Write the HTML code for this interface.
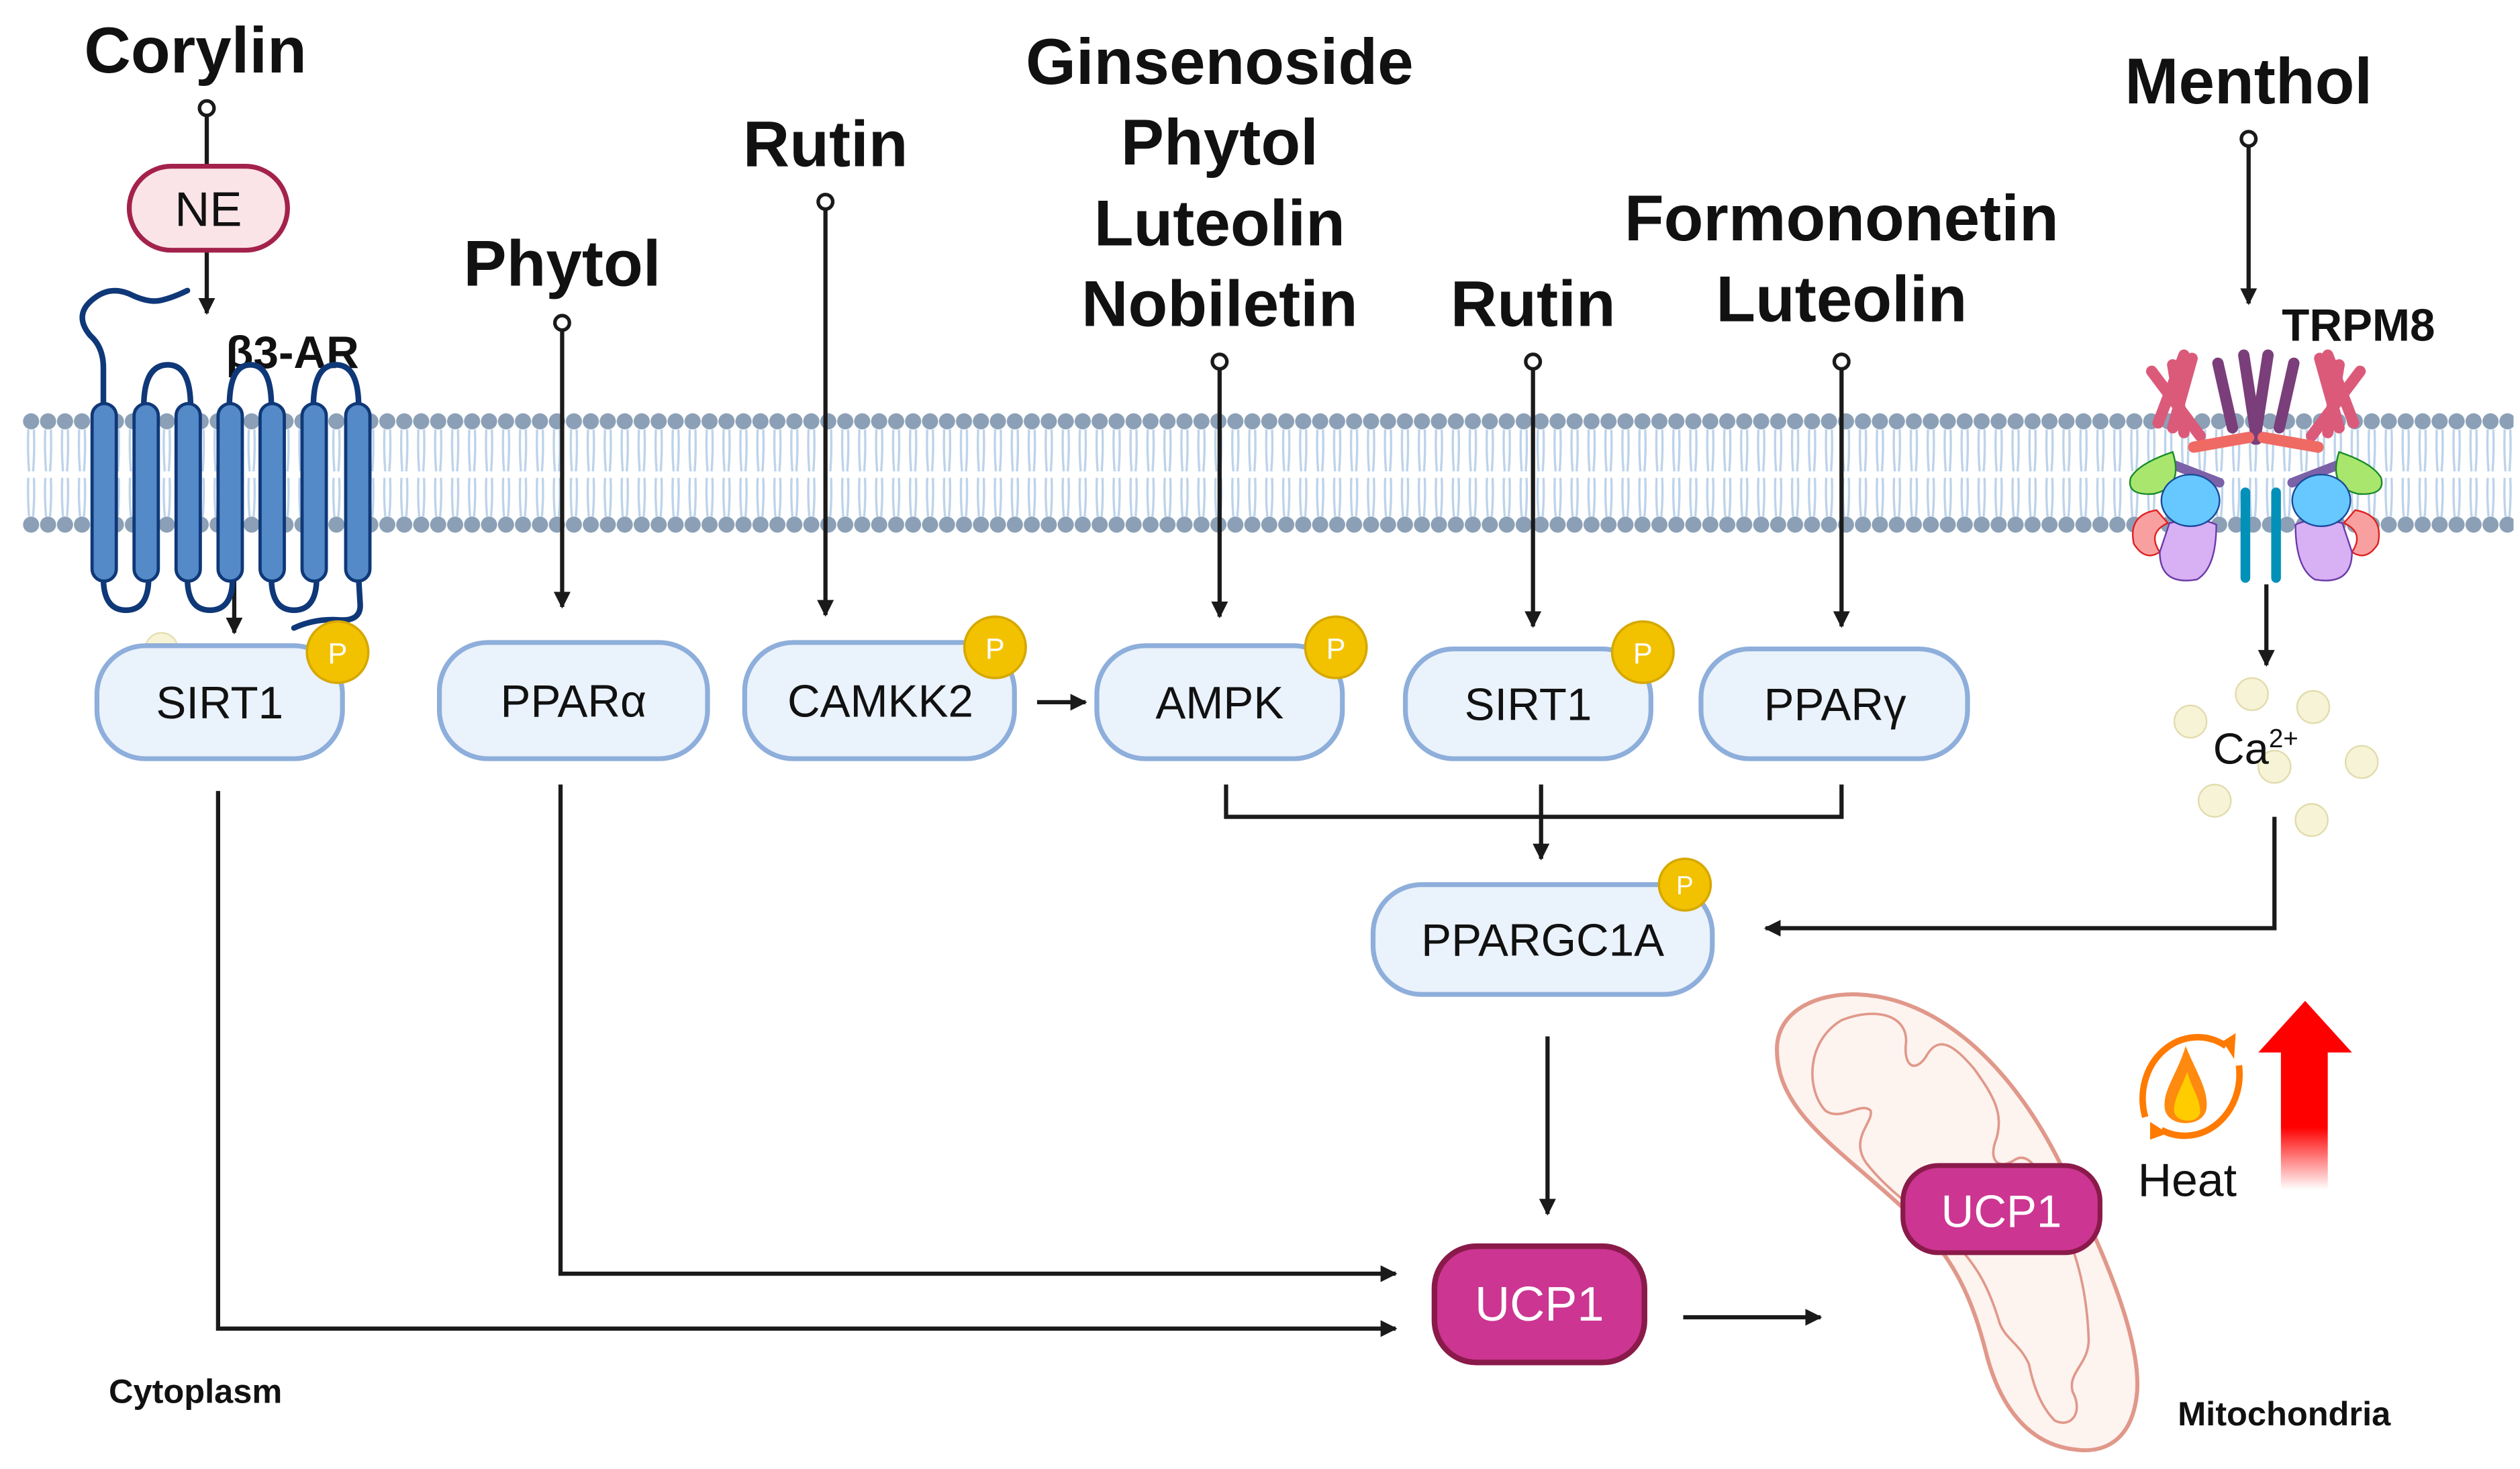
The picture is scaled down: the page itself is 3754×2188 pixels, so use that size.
<!DOCTYPE html>
<html><head><meta charset="utf-8"><style>
html,body{margin:0;padding:0;background:#fff;}
svg{display:block;}
text{font-family:"Liberation Sans",sans-serif;}
</style></head><body>
<svg width="3754" height="2188" viewBox="0 0 1560 910" preserveAspectRatio="none" xmlns="http://www.w3.org/2000/svg">
<defs>
<pattern id="mem" x="14" y="0" width="10.5" height="910" patternUnits="userSpaceOnUse">
<path d="M3.5,266 Q3,280 4,292 M7,266 Q7.5,280 6.5,292 M3.5,296 Q3,308 4,320 M7,296 Q7.5,308 6.5,320" stroke="#bcd3ea" stroke-width="1.4" fill="none"/>
<circle cx="5.25" cy="261" r="5" fill="#8ba0b6"/>
<circle cx="5.25" cy="325" r="5" fill="#8ba0b6"/>
</pattern>
<marker id="ah" viewBox="0 0 10 10" refX="9" refY="5" markerWidth="4" markerHeight="4" orient="auto" markerUnits="strokeWidth"><path d="M0,0 L10,5 L0,10 z" fill="#1a1a1a"/></marker>
<linearGradient id="rg" x1="0" y1="0" x2="0" y2="1"><stop offset="0" stop-color="#ff0000"/><stop offset="0.55" stop-color="#ff0000"/><stop offset="1" stop-color="#ff0000" stop-opacity="0"/></linearGradient>
</defs>
<rect x="14" y="250" width="1542" height="85" fill="url(#mem)"/>

<g fill="#111" font-weight="bold" text-anchor="middle">
<text x="121" y="45" font-size="40">Corylin</text>
<text x="348" y="177" font-size="40">Phytol</text>
<text x="511" y="103" font-size="40">Rutin</text>
<text x="755" y="52" font-size="40">Ginsenoside</text>
<text x="755" y="102" font-size="40">Phytol</text>
<text x="755" y="152" font-size="40">Luteolin</text>
<text x="755" y="202" font-size="40">Nobiletin</text>
<text x="949" y="202" font-size="40">Rutin</text>
<text x="1140" y="149" font-size="40">Formononetin</text>
<text x="1140" y="199" font-size="40">Luteolin</text>
<text x="1392" y="64" font-size="40">Menthol</text>
<text x="1460" y="211" font-size="28">TRPM8</text>
<text x="181" y="228" font-size="28">β3-AR</text>
<text x="121" y="869" font-size="21">Cytoplasm</text>
<text x="1414" y="883" font-size="21">Mitochondria</text>
</g>

<!-- connectors -->
<g stroke="#1a1a1a" stroke-width="2.6" fill="none">
<line x1="128" y1="71" x2="128" y2="103"/>
<line x1="128" y1="155" x2="128" y2="194" marker-end="url(#ah)"/>
<line x1="145" y1="360" x2="145" y2="392" marker-end="url(#ah)"/>
<line x1="348" y1="204" x2="348" y2="376" marker-end="url(#ah)"/>
<line x1="511" y1="129" x2="511" y2="381" marker-end="url(#ah)"/>
<line x1="642" y1="435" x2="672" y2="435" marker-end="url(#ah)"/>
<line x1="755" y1="228" x2="755" y2="382" marker-end="url(#ah)"/>
<line x1="949" y1="228" x2="949" y2="388" marker-end="url(#ah)"/>
<line x1="1140" y1="228" x2="1140" y2="388" marker-end="url(#ah)"/>
<line x1="1392" y1="90" x2="1392" y2="188" marker-end="url(#ah)"/>
<line x1="1403" y1="362" x2="1403" y2="412" marker-end="url(#ah)"/>
<polyline points="759,486 759,506 1140,506 1140,486"/>
<line x1="954" y1="486" x2="954" y2="532" marker-end="url(#ah)"/>
<polyline points="1408,506 1408,575 1093,575" marker-end="url(#ah)"/>
<line x1="958" y1="642" x2="958" y2="752" marker-end="url(#ah)"/>
<polyline points="347,486 347,789 864,789" marker-end="url(#ah)"/>
<polyline points="135,490 135,823 864,823" marker-end="url(#ah)"/>
<line x1="1042" y1="816" x2="1127" y2="816" marker-end="url(#ah)"/>
</g>
<g fill="#fff" stroke="#1a1a1a" stroke-width="2.2">
<circle cx="128" cy="67" r="4.5"/><circle cx="348" cy="200" r="4.5"/><circle cx="511" cy="125" r="4.5"/>
<circle cx="755" cy="224" r="4.5"/><circle cx="949" cy="224" r="4.5"/><circle cx="1140" cy="224" r="4.5"/><circle cx="1392" cy="86" r="4.5"/>
</g>

<!-- NE -->
<rect x="80" y="103" width="98" height="52" rx="26" fill="#fbe4e8" stroke="#a3224c" stroke-width="3"/>
<text x="129" y="140" font-size="30" text-anchor="middle" fill="#111">NE</text>

<!-- GPCR -->
<g stroke="#0f3878" stroke-width="3.5" fill="none" stroke-linecap="round">
<path d="M64,252 L64,228 Q64,215 56,208 Q45,195 58,185 Q68,177 80,182 Q92,188 100,186 Q108,184 116,180"/>
<path d="M89,252 Q89,226 104,226 Q118,226 118,252"/>
<path d="M142,252 Q142,226 155,226 Q168,226 168,252"/>
<path d="M194,252 Q194,226 208,226 Q222,226 222,252"/>
<path d="M64,358 Q64,378 78,378 Q92,378 92,358"/>
<path d="M116,358 Q116,378 130,378 Q144,378 144,358"/>
<path d="M168,358 Q168,378 182,378 Q196,378 196,358"/>
<path d="M222,358 L223,375 Q223,385 210,384 Q195,383 182,389"/>
</g>
<g fill="#558ac8" stroke="#0f3878" stroke-width="2">
<rect x="57" y="250" width="15" height="110" rx="7.5"/><rect x="83" y="250" width="15" height="110" rx="7.5"/>
<rect x="109" y="250" width="15" height="110" rx="7.5"/><rect x="135" y="250" width="15" height="110" rx="7.5"/>
<rect x="161" y="250" width="15" height="110" rx="7.5"/><rect x="187" y="250" width="15" height="110" rx="7.5"/>
<rect x="214" y="250" width="15" height="110" rx="7.5"/>
</g>

<!-- protein boxes -->
<g fill="#eaf2fb" stroke="#8eaedb" stroke-width="3">
<circle cx="100" cy="402" r="10" fill="#f7f3d6" stroke="#e6e0b0" stroke-width="1"/>
<rect x="60" y="400" width="152" height="70" rx="30"/>
<rect x="272" y="398" width="166" height="72" rx="30"/>
<rect x="461" y="398" width="167" height="72" rx="30"/>
<rect x="679" y="400" width="152" height="70" rx="30"/>
<rect x="870" y="402" width="152" height="68" rx="30"/>
<rect x="1053" y="402" width="165" height="68" rx="30"/>
<rect x="850" y="548" width="210" height="68" rx="30"/>
</g>
<g font-size="28" fill="#111" text-anchor="middle">
<text x="136" y="445">SIRT1</text>
<text x="355" y="444">PPARα</text>
<text x="545" y="444">CAMKK2</text>
<text x="755" y="445">AMPK</text>
<text x="946" y="446">SIRT1</text>
<text x="1136" y="446">PPARγ</text>
<text x="955" y="592">PPARGC1A</text>
</g>
<g fill="#f2c200" stroke="#d6a800" stroke-width="1.5">
<circle cx="209" cy="404" r="19"/><circle cx="616" cy="401" r="19"/><circle cx="827" cy="401" r="19"/><circle cx="1017" cy="404" r="19"/><circle cx="1043" cy="548" r="16"/>
</g>
<g fill="#fff" font-size="18" text-anchor="middle">
<text x="209" y="411">P</text><text x="616" y="408">P</text><text x="827" y="408">P</text><text x="1017" y="411">P</text><text x="1043" y="554" font-size="16">P</text>
</g>

<!-- TRPM8 -->
<g stroke-linecap="round">
<g stroke="#db5a7a" stroke-width="7">
<line x1="1345" y1="265" x2="1357" y2="222"/><line x1="1352" y1="268" x2="1345" y2="226"/><line x1="1362" y1="270" x2="1332" y2="230"/><line x1="1336" y1="262" x2="1352" y2="220"/>
<line x1="1448" y1="265" x2="1436" y2="222"/><line x1="1441" y1="268" x2="1448" y2="226"/><line x1="1431" y1="270" x2="1461" y2="230"/><line x1="1457" y1="262" x2="1441" y2="220"/>
</g>
<g stroke="#7a3e7a" stroke-width="7">
<line x1="1373" y1="225" x2="1382" y2="265"/><line x1="1389" y1="220" x2="1397" y2="272"/>
<line x1="1420" y1="225" x2="1411" y2="265"/><line x1="1404" y1="220" x2="1396" y2="272"/>
</g>
<line x1="1358" y1="277" x2="1392" y2="271" stroke="#f06a64" stroke-width="7"/>
<line x1="1435" y1="277" x2="1401" y2="271" stroke="#f06a64" stroke-width="7"/>
<line x1="1343" y1="287" x2="1374" y2="299" stroke="#7b61a8" stroke-width="6"/>
<line x1="1450" y1="287" x2="1419" y2="299" stroke="#7b61a8" stroke-width="6"/>
<line x1="1390" y1="305" x2="1390" y2="358" stroke="#0090b8" stroke-width="6"/>
<line x1="1409" y1="305" x2="1409" y2="358" stroke="#0090b8" stroke-width="6"/>
</g>
<g stroke-width="1">
<path d="M1345,280 Q1352,302 1333,306 Q1316,307 1319,296 Q1324,287 1345,280z" fill="#a9e66e" stroke="#1a8a2a"/>
<path d="M1448,280 Q1441,302 1460,306 Q1477,307 1474,296 Q1469,287 1448,280z" fill="#a9e66e" stroke="#1a8a2a"/>
<path d="M1335,316 Q1317,319 1321,337 Q1328,348 1337,342 Q1329,330 1342,324z" fill="#f8a0a0" stroke="#e02020"/>
<path d="M1458,316 Q1476,319 1472,337 Q1465,348 1456,342 Q1464,330 1451,324z" fill="#f8a0a0" stroke="#e02020"/>
<path d="M1343,324 Q1362,320 1372,325 Q1372,352 1360,359 Q1337,363 1337,342z" fill="#d8b0f4" stroke="#6a3aa8"/>
<path d="M1450,324 Q1431,320 1421,325 Q1421,352 1433,359 Q1456,363 1456,342z" fill="#d8b0f4" stroke="#6a3aa8"/>
<ellipse cx="1356" cy="310" rx="18" ry="16" fill="#66c8ff" stroke="#1a4a9a"/>
<ellipse cx="1437" cy="310" rx="18" ry="16" fill="#66c8ff" stroke="#1a4a9a"/>
</g>

<!-- Ca -->
<g fill="#f7f3d6" stroke="#e2dcae" stroke-width="1">
<circle cx="1356" cy="447" r="10"/><circle cx="1394" cy="430" r="10"/><circle cx="1432" cy="438" r="10"/>
<circle cx="1462" cy="472" r="10"/><circle cx="1408" cy="475" r="10"/><circle cx="1371" cy="496" r="10"/><circle cx="1431" cy="508" r="10"/>
</g>
<text x="1370" y="473" font-size="27" fill="#111">Ca<tspan font-size="16" dy="-10">2+</tspan></text>

<!-- UCP1 -->
<rect x="888" y="772" width="130" height="72" rx="26" fill="#cc3591" stroke="#8a1a4a" stroke-width="3.5"/>
<text x="953" y="818" font-size="30" fill="#fff" text-anchor="middle">UCP1</text>

<!-- Mito -->
<path d="M1150,616 C1200,618 1245,660 1275,720 C1305,780 1325,830 1323,862 C1320,895 1300,900 1285,898 C1255,895 1238,870 1230,840 C1220,800 1208,778 1182,752 C1140,712 1100,690 1100,650 C1100,626 1125,615 1150,616z" fill="#fdf3ef" stroke="#e0988a" stroke-width="2.5"/>
<path d="M1140,632 C1160,624 1180,628 1180,645 C1178,660 1185,665 1192,655 C1200,640 1210,648 1222,662 C1235,680 1240,690 1236,705 C1230,720 1238,725 1248,718 C1260,712 1268,740 1272,752 C1285,770 1292,800 1293,830 C1293,845 1280,850 1283,862 C1290,875 1282,885 1272,880 C1262,870 1258,855 1256,845 C1250,832 1242,830 1238,820 C1232,800 1225,785 1210,770 C1195,755 1170,740 1155,720 C1145,705 1160,695 1158,688 C1152,682 1140,695 1130,688 C1118,675 1118,645 1140,632z" fill="none" stroke="#e0988a" stroke-width="1.5"/>
<rect x="1178" y="722" width="122" height="54" rx="22" fill="#cc3591" stroke="#8a1a4a" stroke-width="3"/>
<text x="1239" y="760" font-size="28" fill="#fff" text-anchor="middle">UCP1</text>

<!-- Heat -->
<g fill="none" stroke="#ff7a00" stroke-width="4">
<path d="M1328,692 A34,38 0 0 1 1378,648"/>
<path d="M1386,660 A34,38 0 0 1 1338,700"/>
</g>
<path d="M1376,645 L1384,640 L1383,656z M1331,695 L1331,706 L1342,702z" fill="#ff7a00"/>
<path d="M1353,648 C1348,665 1339,675 1340,686 C1341,699 1365,699 1366,686 C1367,675 1360,665 1353,648z" fill="#ff8a10"/>
<path d="M1354,664 C1350,675 1345,682 1346,689 C1348,696 1361,696 1362,689 C1362,680 1357,675 1354,664z" fill="#ffcc00"/>
<text x="1354" y="741" font-size="29" fill="#111" text-anchor="middle">Heat</text>
<polygon points="1398,652 1427,620 1456,652" fill="#ff0000"/>
<rect x="1412" y="651" width="29" height="86" fill="url(#rg)"/>
</svg>
</body></html>
